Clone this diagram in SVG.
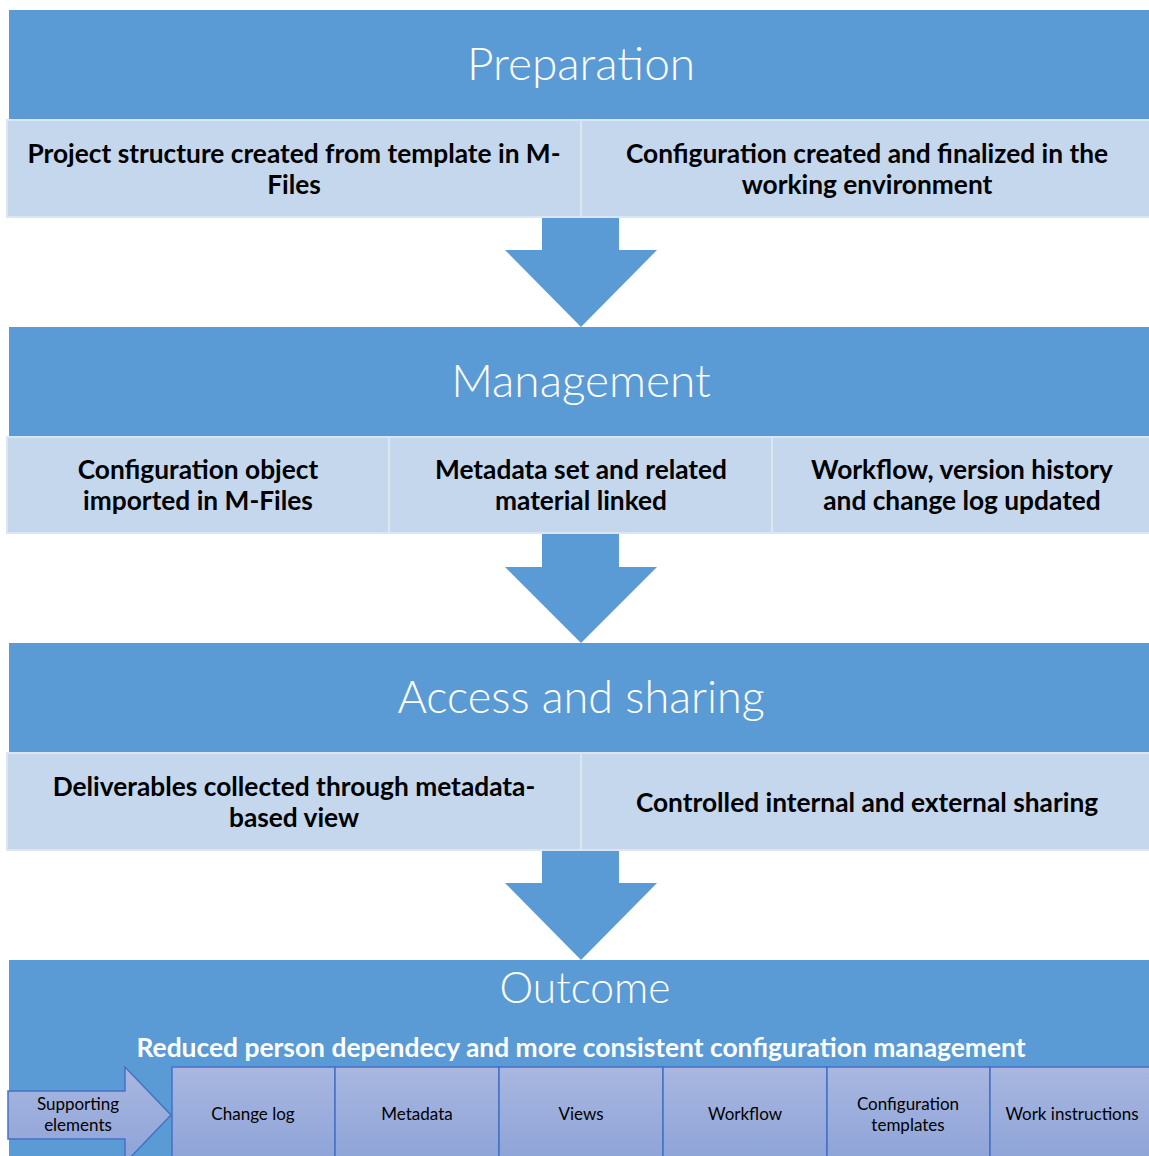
<svg xmlns="http://www.w3.org/2000/svg" width="1149" height="1156" viewBox="0 0 1149 1156">
  <style>
    .hdr { fill: #5B9BD5; }
    .cell { fill: #C5D7EC; stroke: #DCE6F3; stroke-width: 2; }
    .arrow { fill: #5B9BD5; }
    .title { font-family: Lato, "Open Sans", sans-serif; font-weight: 300; font-size: 46px; fill: #FFFFFF; text-anchor: middle; }
    .step { font-family: Lato, "Open Sans", sans-serif; font-weight: bold; font-size: 26.3px; fill: #000000; text-anchor: middle; }
    .sub { font-family: Lato, "Open Sans", sans-serif; font-weight: bold; font-size: 26.4px; fill: #FFFFFF; text-anchor: middle; }
    .elem { fill: url(#elemGrad); stroke: #4472C4; stroke-width: 1.5; }
    .elabel { font-family: Lato, "Open Sans", sans-serif; font-size: 17px; fill: #000000; text-anchor: middle; }
  </style>
  <defs>
    <linearGradient id="elemGrad" x1="0" y1="0" x2="0" y2="1">
      <stop offset="0" stop-color="#A9B7E1"/>
      <stop offset="1" stop-color="#8DA3D7"/>
    </linearGradient>
  </defs>
  <rect width="1149" height="1156" fill="#FFFFFF"/>

  <!-- Preparation -->
  <g id="preparation">
    <rect class="hdr" x="9" y="10" width="1140" height="110"/>
    <text class="title" x="581" y="80">Preparation</text>
  </g>
  <g id="prep-template">
    <rect class="cell" x="7" y="120" width="574" height="97"/>
    <text class="step" x="294" y="163">Project structure created from template in M-</text>
    <text class="step" x="294" y="194">Files</text>
  </g>
  <g id="prep-config">
    <rect class="cell" x="581" y="120" width="569" height="97"/>
    <text class="step" x="867" y="163">Configuration created and finalized in the</text>
    <text class="step" x="867" y="194">working environment</text>
  </g>

  <!-- Management -->
  <g id="management">
    <rect class="hdr" x="9" y="327" width="1140" height="110"/>
    <text class="title" x="581" y="397">Management</text>
  </g>
  <g id="mgmt-import">
    <rect class="cell" x="7" y="437" width="382" height="96"/>
    <text class="step" x="198" y="479">Configuration object</text>
    <text class="step" x="198" y="510">imported in M-Files</text>
  </g>
  <g id="mgmt-metadata">
    <rect class="cell" x="389" y="437" width="383" height="96"/>
    <text class="step" x="581" y="479">Metadata set and related</text>
    <text class="step" x="581" y="510">material linked</text>
  </g>
  <g id="mgmt-workflow">
    <rect class="cell" x="772" y="437" width="378" height="96"/>
    <text class="step" x="962" y="479">Workflow, version history</text>
    <text class="step" x="962" y="510">and change log updated</text>
  </g>

  <!-- Access and sharing -->
  <g id="access">
    <rect class="hdr" x="9" y="643" width="1140" height="110"/>
    <text class="title" x="581" y="713" style="font-size:45px">Access and sharing</text>
  </g>
  <g id="access-deliverables">
    <rect class="cell" x="7" y="753" width="574" height="97"/>
    <text class="step" x="294" y="796">Deliverables collected through metadata-</text>
    <text class="step" x="294" y="827">based view</text>
  </g>
  <g id="access-sharing">
    <rect class="cell" x="581" y="753" width="569" height="97"/>
    <text class="step" x="867" y="812">Controlled internal and external sharing</text>
  </g>

  <!-- Outcome -->
  <g id="outcome">
    <rect class="hdr" x="9" y="960" width="1140" height="196"/>
    <text class="title" x="585" y="1003" style="font-size:42.5px">Outcome</text>
    <text class="sub" x="581" y="1057">Reduced person dependecy and more consistent configuration management</text>
  </g>
  <g id="supporting">
    <path class="elem" d="M8,1091 H125 V1067 L171,1115 L125,1163 V1139 H8 Z"/>
    <text class="elabel" x="78" y="1110">Supporting</text>
    <text class="elabel" x="78" y="1131">elements</text>
  </g>
  <g id="el-changelog">
    <rect class="elem" x="172" y="1067" width="163" height="95"/>
    <text class="elabel" x="253" y="1120">Change log</text>
  </g>
  <g id="el-metadata">
    <rect class="elem" x="335" y="1067" width="164" height="95"/>
    <text class="elabel" x="417" y="1120">Metadata</text>
  </g>
  <g id="el-views">
    <rect class="elem" x="499" y="1067" width="164" height="95"/>
    <text class="elabel" x="581" y="1120">Views</text>
  </g>
  <g id="el-workflow">
    <rect class="elem" x="663" y="1067" width="164" height="95"/>
    <text class="elabel" x="745" y="1120">Workflow</text>
  </g>
  <g id="el-templates">
    <rect class="elem" x="827" y="1067" width="163" height="95"/>
    <text class="elabel" x="908" y="1110">Configuration</text>
    <text class="elabel" x="908" y="1131">templates</text>
  </g>
  <g id="el-instructions">
    <rect class="elem" x="990" y="1067" width="164" height="95"/>
    <text class="elabel" x="1072" y="1120">Work instructions</text>
  </g>

  <!-- Block arrows between phases -->
  <g id="connectors">
    <path class="arrow" d="M542,218 H619 V250 H657 L581,327 L505,250 H542 Z"/>
    <path class="arrow" d="M542,534 H619 V567 H657 L581,643 L505,567 H542 Z"/>
    <path class="arrow" d="M542,851 H619 V883 H657 L581,960 L505,883 H542 Z"/>
  </g>
</svg>
